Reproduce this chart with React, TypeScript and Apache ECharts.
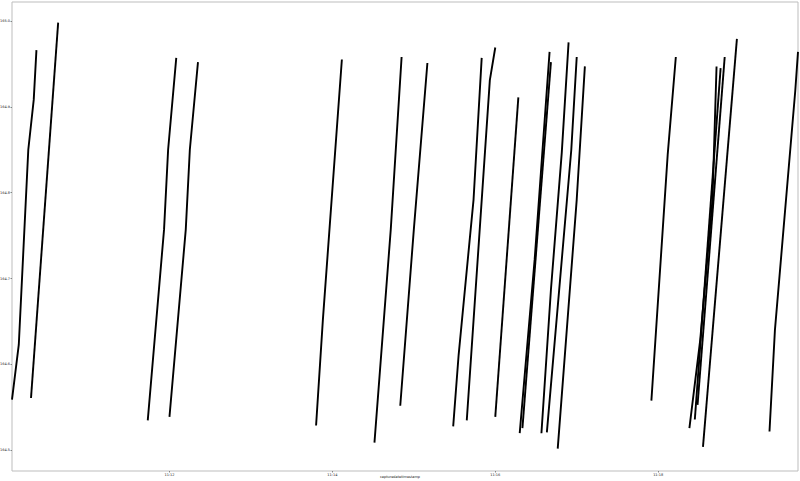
import React, { useEffect, useRef } from 'react';
import * as echarts from 'echarts';

// Tick labels / axis title
const xTickTimes = ['11:12:00', '11:14:00', '11:16:00', '11:18:00'];
const yTickValues = [164.5, 164.6, 164.7, 164.8, 164.9, 165.0];
const xAxisTitle = 'capturedatetimestamp';

// Each run of the line: [clock time, value]
const segments: [string, number][][] = [
  [['11:10:04', 164.559], ['11:10:09', 164.623], ['11:10:16', 164.85], ['11:10:20', 164.908], ['11:10:22', 164.966]],
  [['11:10:18', 164.561], ['11:10:38', 164.998]],
  [['11:11:44', 164.535], ['11:11:56', 164.757], ['11:11:59', 164.85], ['11:12:05', 164.957]],
  [['11:12:00', 164.539], ['11:12:12', 164.757], ['11:12:15', 164.85], ['11:12:21', 164.952]],
  [['11:13:48', 164.529], ['11:13:53', 164.652], ['11:14:07', 164.955]],
  [['11:14:31', 164.509], ['11:14:43', 164.757], ['11:14:51', 164.958]],
  [['11:14:50', 164.552], ['11:15:00', 164.757], ['11:15:10', 164.951]],
  [['11:15:29', 164.528], ['11:15:33', 164.611], ['11:15:44', 164.792], ['11:15:50', 164.957]],
  [['11:15:39', 164.535], ['11:15:56', 164.931], ['11:16:00', 164.969]],
  [['11:16:00', 164.539], ['11:16:17', 164.911]],
  [['11:16:18', 164.52], ['11:16:29', 164.722], ['11:16:40', 164.964]],
  [['11:16:20', 164.526], ['11:16:41', 164.952]],
  [['11:16:34', 164.52], ['11:16:41', 164.687], ['11:16:49', 164.847], ['11:16:54', 164.975]],
  [['11:16:38', 164.521], ['11:16:56', 164.85], ['11:17:00', 164.958]],
  [['11:16:46', 164.502], ['11:17:00', 164.792], ['11:17:06', 164.947]],
  [['11:17:55', 164.558], ['11:18:07', 164.844], ['11:18:13', 164.958]],
  [['11:18:23', 164.526], ['11:18:31', 164.629], ['11:18:40', 164.792], ['11:18:43', 164.947]],
  [['11:18:27', 164.536], ['11:18:46', 164.945]],
  [['11:18:29', 164.553], ['11:18:49', 164.958]],
  [['11:18:33', 164.504], ['11:18:58', 164.979]],
  [['11:19:22', 164.522], ['11:19:26', 164.64], ['11:19:41', 164.919], ['11:19:43', 164.964]],
];

const toSec = (t: string) => {
  const [h, m, s] = t.split(':').map(Number);
  return h * 3600 + m * 60 + s;
};
const fmtClock = (v: number) => {
  const h = Math.floor(v / 3600);
  const m = Math.floor((v % 3600) / 60);
  return `${String(h).padStart(2, '0')}:${String(m).padStart(2, '0')}`;
};

export default function App() {
  const ref = useRef<HTMLDivElement>(null);
  useEffect(() => {
    if (!ref.current) return;
    const chart = echarts.init(ref.current, undefined, { renderer: 'svg' });
    const font = 'DejaVu Sans';
    const xTicks = xTickTimes.map(toSec);
    chart.setOption({
      animation: false,
      backgroundColor: '#ffffff',
      grid: {
        left: 12,
        right: 2,
        top: 2,
        bottom: 10,
        show: true,
        borderColor: '#bdbdbd',
        borderWidth: 1,
        containLabel: false,
        outerBoundsMode: 'none',
      },
      graphic: [
        {
          type: 'text',
          left: 'center',
          top: 475,
          silent: true,
          style: {
            text: xAxisTitle,
            fontSize: 3.5,
            fill: '#222',
            fontFamily: font,
          },
        },
      ],
      xAxis: {
        type: 'value',
        min: 'dataMin',
        max: 'dataMax',
        splitLine: { show: false },
        axisLine: { show: false },
        axisTick: { show: true, length: 1.5, customValues: xTicks, lineStyle: { color: '#444', width: 0.6 } },
        axisLabel: {
          customValues: xTicks,
          fontSize: 3.5,
          color: '#222',
          fontFamily: font,
          margin: 2,
          formatter: (v: number) => fmtClock(v),
        },
      },
      yAxis: {
        type: 'value',
        min: 164.476,
        max: 165.022,
        splitLine: { show: false },
        axisLine: { show: false },
        axisTick: { show: true, length: 1.5, customValues: yTickValues, lineStyle: { color: '#444', width: 0.6 } },
        axisLabel: {
          customValues: yTickValues,
          fontSize: 3.5,
          color: '#222',
          fontFamily: font,
          margin: 2,
          formatter: (v: number) => v.toFixed(1),
        },
      },
      series: segments.map((seg) => ({
        type: 'line',
        data: seg.map(([t, v]) => [toSec(t), v]),
        showSymbol: false,
        silent: true,
        lineStyle: { color: '#000000', width: 1.9 },
        itemStyle: { color: '#000000' },
      })),
    });
    return () => chart.dispose();
  }, []);
  return (
    <div
      ref={ref}
      style={{ position: 'fixed', left: 0, top: 0, width: 800, height: 481 }}
    />
  );
}
